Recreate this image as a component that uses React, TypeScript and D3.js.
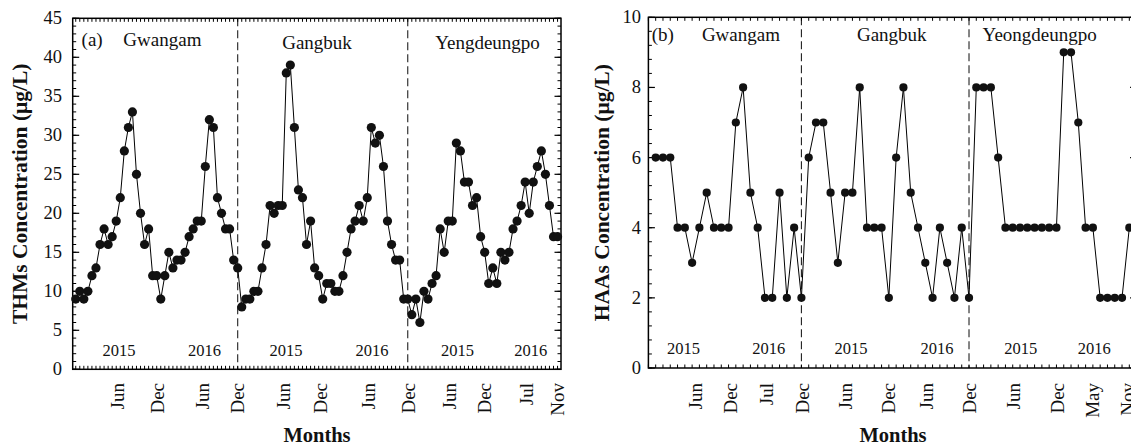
import React from "react";
import * as d3 from "d3";

// ---------- DATA ----------
// THMs (µg/L), sampled roughly twice a month, three sites
const thmGwangam = [9,10,9,10,12,13,16,18,16,17,19,22,28,31,33,25,20,16,18,12,12,9,12,15,13,14,14,15,17,18,19,19,26,32,31,22,20,18,18,14,13];
const thmGangbuk = [8,9,9,10,10,13,16,21,20,21,21,38,39,31,23,22,16,19,13,12,9,11,11,10,10,12,15,18,19,21,19,22,31,29,30,26,19,16,14,14,9,9];
const thmYengdeungpo = [7,9,6,10,9,11,12,18,15,19,19,29,28,24,24,21,22,17,15,11,13,11,15,14,15,18,19,21,24,20,24,26,28,25,21,17,17];

// HAAs (µg/L), roughly monthly, three sites
const haaGwangam = [6,6,6,4,4,3,4,5,4,4,4,7,8,5,4,2,2,5,2,4,2];
const haaGangbuk = [6,7,7,5,3,5,5,8,4,4,4,2,6,8,5,4,3,2,4,3,2,4,2];
const haaYeongdeungpo = [8,8,8,6,4,4,4,4,4,4,4,4,9,9,7,4,4,2,2,2,2,4];

// month tick labels (sample-index positions)
const monthLabelsA = ["Jun","Dec","Jun","Dec","Jun","Dec","Jun","Dec","Jun","Dec","Jul","Nov"];
const monthPosA = [10.4,20.3,31.3,40,51.2,60.4,72.2,82.1,92.3,101,111.4,118.9];
const monthLabelsB = ["Jun","Dec","Jul","Dec","Jun","Dec","Jun","Dec","Jun","Dec","May","Nov"];
const monthPosB = [5.4,10.3,15.2,20.2,26.1,32.0,37.1,43.1,49.1,55.2,60.0,64.8];

const yearLabels = ["2015","2016","2015","2016","2015","2016"];
const yearPosA = [10.7,31.8,51.9,73.2,94.3,112.4];
const yearPosB = [3.8,15.5,26.8,38.6,50.1,60.2];

const siteNamesA = ["Gwangam","Gangbuk","Yengdeungpo"];
const siteNamesB = ["Gwangam","Gangbuk","Yeongdeungpo"];
const sitePosA = [21.4,59.6,101.7];
const sitePosB = [11.7,32.4,52.7];

const FONT = "'Liberation Serif', 'Times New Roman', serif";

type Panel = {
  segments: number[][];
  xDomain: [number, number];
  xRange: [number, number];
  yDomain: [number, number];
  yRange: [number, number];
  yMajor: number;
  yMinor: number;
  r: number;
  tag: string;
  tagPos: number;
  tagBase: number;
  siteNames: string[];
  sitePos: number[];
  siteBase: number[];
  monthLabels: string[];
  monthPos: number[];
  yearPos: number[];
  yearBase: number;
  yLabelEnd: number;
  yTitle: string;
  yTitleX: number;
  xTitleX: number;
};

const panels: Panel[] = [
  {
    segments: [thmGwangam, thmGangbuk, thmYengdeungpo],
    xDomain: [-0.75, 119.85], xRange: [72.7, 561],
    yDomain: [0, 45], yRange: [369.3, 18.3],
    yMajor: 5, yMinor: 1, r: 4.6,
    tag: "(a)", tagPos: 1.45, tagBase: 46,
    siteNames: siteNamesA, sitePos: sitePosA, siteBase: [46, 49, 49],
    monthLabels: monthLabelsA, monthPos: monthPosA,
    yearPos: yearPosA, yearBase: 356,
    yLabelEnd: 62, yTitle: "THMs Concentration (\u03bcg/L)", yTitleX: 27,
    xTitleX: 317,
  },
  {
    segments: [haaGwangam, haaGangbuk, haaYeongdeungpo],
    xDomain: [-1, 66], xRange: [648.4, 1136.6],
    yDomain: [0, 10], yRange: [368, 17.3],
    yMajor: 2, yMinor: 0.4, r: 4.1,
    tag: "(b)", tagPos: -0.55, tagBase: 41,
    siteNames: siteNamesB, sitePos: sitePosB, siteBase: [41, 41, 41],
    monthLabels: monthLabelsB, monthPos: monthPosB,
    yearPos: yearPosB, yearBase: 354,
    yLabelEnd: 641, yTitle: "HAAs Concentration (\u03bcg/L)", yTitleX: 609,
    xTitleX: 893,
  },
];

function PanelView({ p }: { p: Panel }) {
  const x = d3.scaleLinear().domain(p.xDomain).range(p.xRange);
  const y = d3.scaleLinear().domain(p.yDomain).range(p.yRange);
  const values = p.segments.flat();
  const pts = values.map((v, i) => [i, v] as [number, number]);
  const line = d3.line<[number, number]>().x(d => x(d[0])).y(d => y(d[1]));

  const boundaries: number[] = [];
  let acc = 0;
  p.segments.slice(0, -1).forEach(s => { acc += s.length; boundaries.push(acc - 1); });

  const [x0, x1] = p.xRange;
  const [yb, yt] = p.yRange;
  const idxTicks = d3.range(Math.ceil(p.xDomain[0]), Math.floor(p.xDomain[1]) + 1);
  const nMinor = Math.round((p.yDomain[1] - p.yDomain[0]) / p.yMinor);
  const minorTicks = d3.range(0, nMinor + 1).map(k => p.yDomain[0] + k * p.yMinor);
  const majorTicks = d3.range(p.yDomain[0], p.yDomain[1] + 1e-9, p.yMajor);
  const midY = (yb + yt) / 2;

  return (
    <g>
      {boundaries.map((b, i) => (
        <line key={"d" + i} x1={x(b)} x2={x(b)} y1={yt} y2={yb} stroke="#222" strokeWidth={1.1} strokeDasharray="8,4" />
      ))}
      {idxTicks.map(t => (
        <g key={"xt" + t}>
          <line x1={x(t)} x2={x(t)} y1={yb} y2={yb - 3.5} stroke="#000" strokeWidth={1} />
          <line x1={x(t)} x2={x(t)} y1={yt} y2={yt + 3.5} stroke="#000" strokeWidth={1} />
        </g>
      ))}
      {minorTicks.map((t, i) => (
        <g key={"ym" + i}>
          <line x1={x0} x2={x0 + 3.5} y1={y(t)} y2={y(t)} stroke="#000" strokeWidth={1} />
          <line x1={x1} x2={x1 - 3.5} y1={y(t)} y2={y(t)} stroke="#000" strokeWidth={1} />
        </g>
      ))}
      {majorTicks.map((t, i) => (
        <g key={"yM" + i}>
          <line x1={x0} x2={x0 + 6.5} y1={y(t)} y2={y(t)} stroke="#000" strokeWidth={1.2} />
          <line x1={x1} x2={x1 - 6.5} y1={y(t)} y2={y(t)} stroke="#000" strokeWidth={1.2} />
          <text x={p.yLabelEnd} y={y(t)} textAnchor="end" dominantBaseline="central" fontSize={18.5} fontFamily={FONT} fill="#111">{t}</text>
        </g>
      ))}
      <rect x={x0} y={yt} width={x1 - x0} height={yb - yt} fill="none" stroke="#000" strokeWidth={1.5} />
      <path d={line(pts) || ""} fill="none" stroke="#000" strokeWidth={1} />
      {pts.map((d, i) => (
        <circle key={"c" + i} cx={x(d[0])} cy={y(d[1])} r={p.r} fill="#111" />
      ))}
      <text x={x(p.tagPos)} y={p.tagBase} fontSize={19} fontFamily={FONT} fill="#111">{p.tag}</text>
      {p.siteNames.map((s, i) => (
        <text key={"s" + i} x={x(p.sitePos[i])} y={p.siteBase[i]} textAnchor="middle" fontSize={19} fontFamily={FONT} fill="#111">{s}</text>
      ))}
      {yearLabels.map((s, i) => (
        <text key={"yr" + i} x={x(p.yearPos[i])} y={p.yearBase} textAnchor="middle" fontSize={16.5} fontFamily={FONT} fill="#111">{s}</text>
      ))}
      {p.monthLabels.map((s, i) => (
        <text key={"m" + i} transform={`translate(${x(p.monthPos[i])},383) rotate(-90)`} textAnchor="end" dominantBaseline="central" fontSize={19} fontFamily={FONT} fill="#111">{s}</text>
      ))}
      <text x={p.xTitleX} y={442} textAnchor="middle" fontSize={20.5} fontWeight="bold" fontFamily={FONT} fill="#111">Months</text>
      <text transform={`translate(${p.yTitleX},${midY}) rotate(-90)`} textAnchor="middle" fontSize={21.5} fontWeight="bold" fontFamily={FONT} fill="#111">{p.yTitle}</text>
    </g>
  );
}

export default function App() {
  return (
    <svg width={1131} height={446} style={{ position: "absolute", left: 0, top: 0, background: "#fff" }}>
      <rect x={0} y={0} width={1131} height={446} fill="#fff" />
      {panels.map((p, i) => <PanelView key={i} p={p} />)}
    </svg>
  );
}
